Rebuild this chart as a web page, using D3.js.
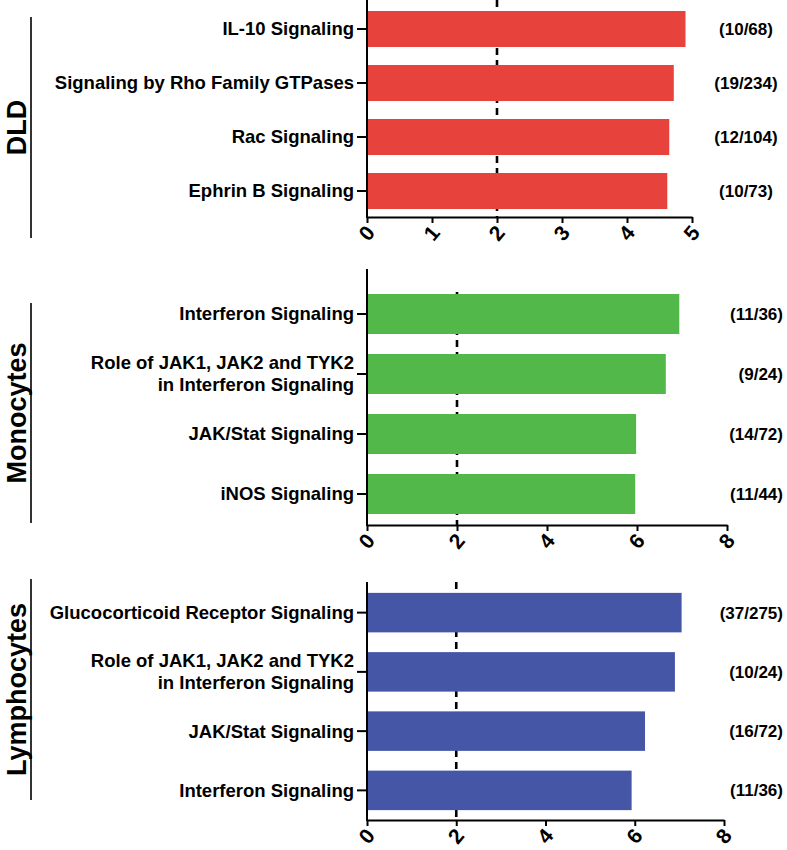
<!DOCTYPE html>
<html>
<head>
<meta charset="utf-8">
<script src="https://cdn.jsdelivr.net/npm/d3@7"></script>
<style>
  html, body { margin: 0; padding: 0; background: #fff; }
  svg { display: block; font-family: "Liberation Sans", Arial, Helvetica, sans-serif; }
</style>
</head>
<body>
<svg id="chart" width="787" height="850"></svg>
<script>
// ---------- DATA ----------
const groupNames = ["DLD", "Monocytes", "Lymphocytes"];

const dldCategories = ["IL-10 Signaling", "Signaling by Rho Family GTPases", "Rac Signaling", "Ephrin B Signaling"];
const dldValues = [4.90, 4.72, 4.65, 4.62];
const dldCounts = ["(10/68)", "(19/234)", "(12/104)", "(10/73)"];
const dldTicks = [0, 1, 2, 3, 4, 5];

const monoCategories = ["Interferon Signaling", "Role of JAK1, JAK2 and TYK2\nin Interferon Signaling", "JAK/Stat Signaling", "iNOS Signaling"];
const monoValues = [6.94, 6.64, 5.98, 5.96];
const monoCounts = ["(11/36)", "(9/24)", "(14/72)", "(11/44)"];
const monoTicks = [0, 2, 4, 6, 8];

const lymphCategories = ["Glucocorticoid Receptor Signaling", "Role of JAK1, JAK2 and TYK2\nin Interferon Signaling", "JAK/Stat Signaling", "Interferon Signaling"];
const lymphValues = [7.05, 6.90, 6.23, 5.93];
const lymphCounts = ["(37/275)", "(10/24)", "(16/72)", "(11/36)"];
const lymphTicks = [0, 2, 4, 6, 8];

const thresholdValue = 2;

// ---------- LAYOUT ----------
const panels = [
  { name: groupNames[0], cats: dldCategories, vals: dldValues, counts: dldCounts, ticks: dldTicks,
    color: "#E8423D", xMax: 5, xRange: [367, 692], band: [2, 218], axisY: 217, axisTop: 0, dashTop: 0,
    countX: 746, countAnchor: "middle", bracket: [17, 238] },
  { name: groupNames[1], cats: monoCategories, vals: monoValues, counts: monoCounts, ticks: monoTicks,
    color: "#52B84A", xMax: 8, xRange: [367, 727], band: [284, 524], axisY: 525, axisTop: 269, dashTop: 292,
    countX: 783, countAnchor: "end", bracket: [303, 523] },
  { name: groupNames[2], cats: lymphCategories, vals: lymphValues, counts: lymphCounts, ticks: lymphTicks,
    color: "#4556A7", xMax: 8, xRange: [367, 724], band: [583, 820], axisY: 820, axisTop: 582, dashTop: 582,
    countX: 783, countAnchor: "end", bracket: [579, 800] }
];

const svg = d3.select("#chart");

panels.forEach(p => {
  const g = svg.append("g");
  const x = d3.scaleLinear().domain([0, p.xMax]).range(p.xRange);
  const y = d3.scaleBand().domain(p.cats).range(p.band).paddingInner(1/3).paddingOuter(1/6);

  // threshold dashed line (behind bars)
  g.append("line")
    .attr("x1", x(thresholdValue)).attr("x2", x(thresholdValue))
    .attr("y1", p.dashTop).attr("y2", p.axisY)
    .attr("stroke", "#000").attr("stroke-width", 2.6)
    .attr("stroke-dasharray", "7,5");

  // bars
  g.selectAll("rect.bar").data(p.cats).enter().append("rect")
    .attr("class", "bar")
    .attr("x", x(0))
    .attr("y", d => y(d))
    .attr("width", (d, i) => x(p.vals[i]) - x(0))
    .attr("height", y.bandwidth())
    .attr("fill", p.color);

  // x axis
  const xAxis = d3.axisBottom(x).tickValues(p.ticks).tickSize(6).tickSizeOuter(0).tickFormat(d3.format("d"));
  const gx = g.append("g").attr("transform", `translate(0,${p.axisY})`).call(xAxis);
  gx.select(".domain").attr("stroke", "#000").attr("stroke-width", 2);
  gx.selectAll(".tick line").attr("stroke", "#000").attr("stroke-width", 2);
  gx.selectAll(".tick text")
    .attr("font-size", 21).attr("font-weight", "bold").attr("fill", "#000")
    .attr("text-anchor", "middle")
    .attr("x", 0).attr("y", 0).attr("dy", "0.35em")
    .attr("transform", "translate(-1,16) rotate(-50)");

  // y axis
  const yAxis = d3.axisLeft(y).tickSize(10).tickSizeOuter(0).tickFormat("");
  const gy = g.append("g").attr("transform", `translate(${x(0)},0)`).call(yAxis);
  gy.select(".domain").remove();
  gy.selectAll(".tick line").attr("stroke", "#000").attr("stroke-width", 2);
  g.append("line")
    .attr("x1", x(0)).attr("x2", x(0))
    .attr("y1", p.axisTop).attr("y2", p.axisY + 1)
    .attr("stroke", "#000").attr("stroke-width", 2);

  // category labels
  g.selectAll("text.cat").data(p.cats).enter().append("text")
    .attr("class", "cat")
    .attr("text-anchor", "end")
    .attr("font-size", 18.5).attr("font-weight", "bold").attr("fill", "#000")
    .each(function(d) {
      const lines = d.split("\n");
      const t = d3.select(this);
      const cy = y(d) + y.bandwidth() / 2;
      lines.forEach((ln, k) => {
        t.append("tspan")
          .attr("x", x(0) - 13)
          .attr("y", cy + (k - (lines.length - 1) / 2) * 22)
          .attr("dy", "0.35em")
          .text(ln);
      });
    });

  // counts
  g.selectAll("text.cnt").data(p.counts).enter().append("text")
    .attr("class", "cnt")
    .attr("x", p.countX)
    .attr("y", (d, i) => y(p.cats[i]) + y.bandwidth() / 2)
    .attr("dy", "0.35em")
    .attr("text-anchor", p.countAnchor)
    .attr("font-size", 17).attr("font-weight", "bold").attr("fill", "#000")
    .text(d => d);

  // group bracket and name
  g.append("line")
    .attr("x1", 31).attr("x2", 31)
    .attr("y1", p.bracket[0]).attr("y2", p.bracket[1])
    .attr("stroke", "#333").attr("stroke-width", 2);
  const cy = (p.bracket[0] + p.bracket[1]) / 2;
  g.append("text")
    .attr("transform", `translate(26,${cy}) rotate(-90)`)
    .attr("text-anchor", "middle")
    .attr("font-size", 27).attr("font-weight", "bold").attr("fill", "#000")
    .text(p.name);
});
</script>
</body>
</html>
